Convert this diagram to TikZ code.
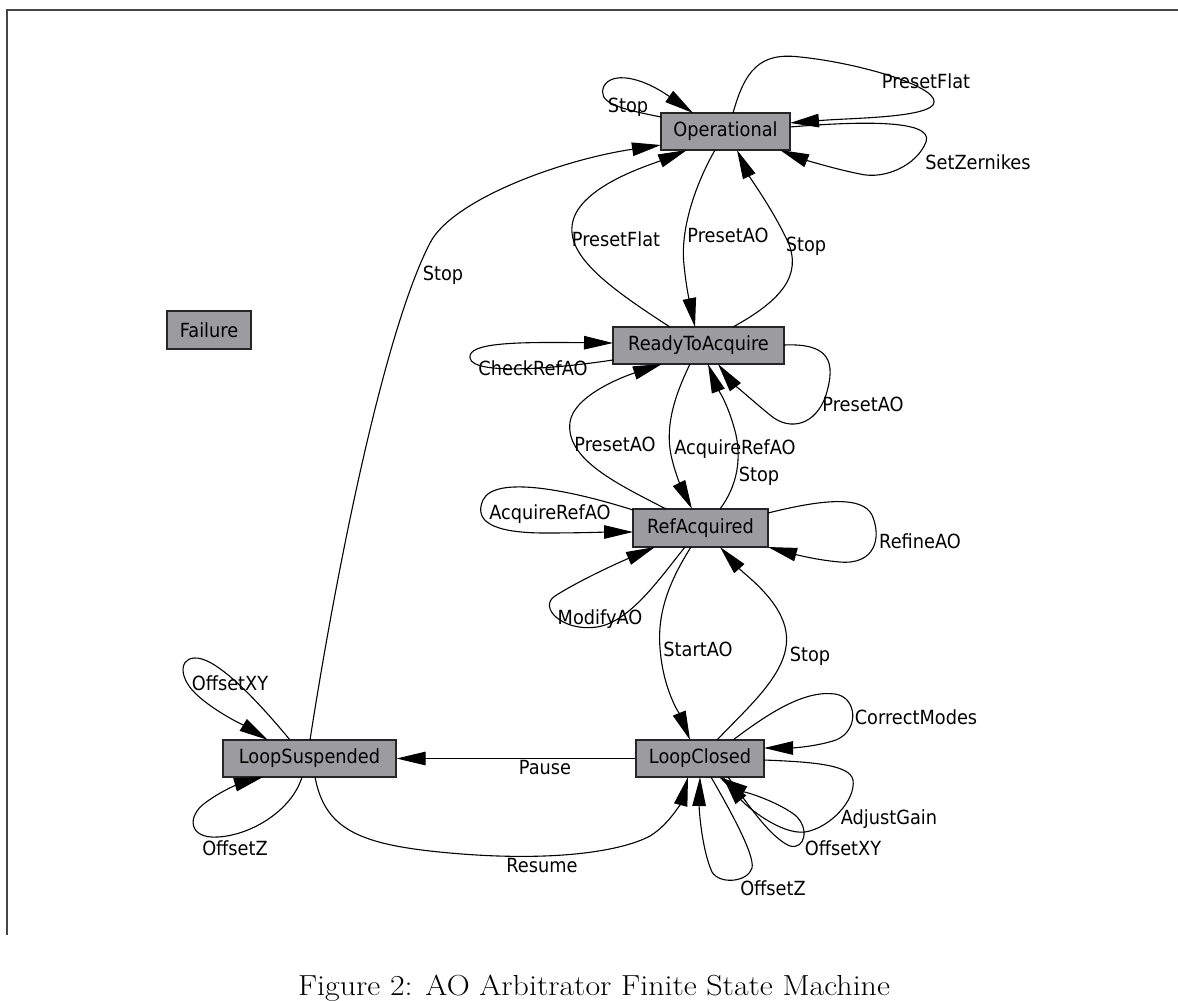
\documentclass[tikz,border=0pt]{standalone}
\usepackage{fontspec}
\usetikzlibrary{arrows.meta}
\newfontfamily\dejavu{DejaVu Sans}[FakeStretch=0.91]
\newcommand{\lblfont}{\dejavu\fontsize{19.5}{22}\selectfont}
\definecolor{boxgray}{RGB}{155,155,160}
\definecolor{framegray}{RGB}{70,70,70}
\tikzset{
  state/.style={draw=black!85, fill=boxgray, line width=1.1pt, minimum height=37pt, inner sep=0pt, font=\lblfont},
  edge/.style={line width=1.1pt, -{Triangle[length=29pt,width=13.5pt]}},
  elabel/.style={font=\lblfont, inner sep=0pt, text height=14pt, text depth=5pt}
}
\begin{document}
\begin{tikzpicture}[x=1pt,y=-1pt]
\useasboundingbox (0,0) rectangle (1178,1001);
\draw[framegray, line width=1.3pt] (7,935) -- (7,10) -- (1178,10);

% states
\node[state, minimum width=129pt] (op)   at (725.5,131.5) {Operational};
\node[state, minimum width=84pt, minimum height=38pt] (fail) at (209,330) {Failure};
\node[state, minimum width=171pt] (rta)  at (698.5,345.5) {ReadyToAcquire};
\node[state, minimum width=135pt, minimum height=38pt] (ref) at (700.5,528) {RefAcquired};
\node[state, minimum width=173pt] (ls)   at (309.5,758.5) {LoopSuspended};
\node[state, minimum width=128pt] (lc)   at (700,758.5) {LoopClosed};

% Operational self loops
\draw[edge] ([shift={(-64.5,-14.5)}]op.center) .. controls (615,108) and (597,102) .. (604,86)
   .. controls (612,72) and (640,76) .. ([shift={(-32.5,-18.5)}]op.center);
\draw[edge] ([shift={(7.5,-18.5)}]op.center) .. controls (745,70) and (760,52) .. (800,57)
   .. controls (860,63) and (945,88) .. (933,105)
   .. controls (922,118) and (850,118) .. ([shift={(64.5,-8.5)}]op.center);
\draw[edge] ([shift={(64.5,-4.5)}]op.center) .. controls (850,122) and (935,118) .. (926,142)
   .. controls (917,165) and (885,180) .. (860,174)
   .. controls (830,168) and (800,158) .. ([shift={(54.5,18.5)}]op.center);

% LoopSuspended -> Operational (Stop)
\draw[edge] ([shift={(0.5,-18.5)}]ls.center) .. controls (338,560) and (385,330) .. (430,243)
   .. controls (452,200) and (560,160) .. ([shift={(-64.5,13.5)}]op.center);

% ReadyToAcquire <-> Operational
\draw[edge] ([shift={(-28.5,-18.5)}]rta.center) .. controls (600,282) and (560,250) .. (575,215)
   .. controls (590,183) and (650,165) .. ([shift={(-38.5,18.5)}]op.center);
\draw[edge] ([shift={(-10.5,18.5)}]op.center) .. controls (695,185) and (680,230) .. (684,265)
   .. controls (687,295) and (692,312) .. ([shift={(-3.5,-18.5)}]rta.center);
\draw[edge] ([shift={(34.5,-18.5)}]rta.center) .. controls (782,300) and (802,275) .. (788,242)
   .. controls (772,208) and (750,178) .. ([shift={(11.5,18.5)}]op.center);

% ReadyToAcquire self loops
\draw[edge] ([shift={(-85.5,14.5)}]rta.center) .. controls (560,368) and (473,376) .. (470,358)
   .. controls (467,342) and (520,342) .. ([shift={(-85.5,-2.5)}]rta.center);
\draw[edge] ([shift={(85.5,-0.5)}]rta.center) .. controls (830,343) and (836,362) .. (826,395)
   .. controls (816,425) and (790,432) .. (770,415)
   .. controls (748,397) and (730,380) .. ([shift={(19.5,18.5)}]rta.center);

% ReadyToAcquire <-> RefAcquired
\draw[edge] ([shift={(-8.5,18.5)}]rta.center) .. controls (675,395) and (665,425) .. (671,455)
   .. controls (676,478) and (685,495) .. ([shift={(-8.5,-19)}]ref.center);
\draw[edge] ([shift={(19.5,-19)}]ref.center) .. controls (738,485) and (741,458) .. (736,435)
   .. controls (729,405) and (716,385) .. ([shift={(9.5,18.5)}]rta.center);
\draw[edge] ([shift={(-34.5,-19)}]ref.center) .. controls (620,485) and (565,460) .. (570,422)
   .. controls (574,395) and (625,376) .. ([shift={(-36.5,18.5)}]rta.center);

% RefAcquired self loops
\draw[edge] ([shift={(-67.5,-18)}]ref.center) .. controls (570,490) and (495,475) .. (483,500)
   .. controls (474,520) and (490,533) .. (545,533)
   .. controls (580,533) and (610,532) .. ([shift={(-67.5,4)}]ref.center);
\draw[edge] ([shift={(67.5,-15)}]ref.center) .. controls (820,500) and (862,495) .. (872,515)
   .. controls (882,538) and (875,565) .. (840,562)
   .. controls (815,560) and (790,553) .. ([shift={(67.5,19)}]ref.center);
\draw[edge] ([shift={(-15.5,19)}]ref.center) .. controls (660,578) and (630,622) .. (597,627)
   .. controls (562,632) and (538,607) .. (555,596)
   .. controls (580,580) and (620,562) .. ([shift={(-45.5,19)}]ref.center);

% RefAcquired <-> LoopClosed
\draw[edge] ([shift={(-9.5,19)}]ref.center) .. controls (670,580) and (657,612) .. (660,648)
   .. controls (663,690) and (680,715) .. ([shift={(-10,-18.5)}]lc.center);
\draw[edge] ([shift={(17,-18.5)}]lc.center) .. controls (750,705) and (792,670) .. (786,632)
   .. controls (781,600) and (745,575) .. ([shift={(19.5,19)}]ref.center);

% LoopClosed <-> LoopSuspended
\draw[edge] (lc.west) -- (ls.east);
\draw[edge] ([shift={(5.5,18.5)}]ls.center) .. controls (325,830) and (360,845) .. (450,853)
   .. controls (550,862) and (620,852) .. (650,836)
   .. controls (670,824) and (682,800) .. ([shift={(-12,18.5)}]lc.center);

% LoopSuspended self loops
\draw[edge] ([shift={(-19.5,-18.5)}]ls.center) .. controls (262,706) and (225,666) .. (202,659)
   .. controls (180,653) and (176,675) .. (196,694)
   .. controls (215,712) and (245,726) .. ([shift={(-41.5,-18.5)}]ls.center);
\draw[edge] ([shift={(-7.5,18.5)}]ls.center) .. controls (292,810) and (252,835) .. (218,837)
   .. controls (188,839) and (187,816) .. (205,803)
   .. controls (225,788) and (245,782) .. ([shift={(-46.5,18.5)}]ls.center);

% LoopClosed self loops
\draw[edge] ([shift={(33,-18.5)}]lc.center) .. controls (770,712) and (805,690) .. (835,694)
   .. controls (857,697) and (860,730) .. (836,740)
   .. controls (815,747) and (790,748) .. ([shift={(64,-10.5)}]lc.center);
\draw[edge] ([shift={(64,1.5)}]lc.center) .. controls (815,762) and (850,765) .. (853,780)
   .. controls (856,800) and (830,828) .. (805,832)
   .. controls (780,835) and (745,805) .. ([shift={(23,18.5)}]lc.center);
\draw[edge] ([shift={(28,18.5)}]lc.center) .. controls (745,800) and (770,838) .. (790,846)
   .. controls (805,850) and (810,828) .. (795,815)
   .. controls (775,800) and (740,790) .. ([shift={(19,18.5)}]lc.center);
\draw[edge] ([shift={(11,18.5)}]lc.center) .. controls (730,810) and (755,855) .. (752,868)
   .. controls (748,882) and (720,885) .. (712,872)
   .. controls (702,850) and (699,810) .. ([shift={(0,18.5)}]lc.center);

% edge labels
\node[elabel] (l1)  at (628,108) {Stop};
\node[elabel] (l2)  at (926,84)  {PresetFlat};
\node[elabel] (l3)  at (978,165) {SetZernikes};
\node[elabel] (l4)  at (443,276) {Stop};
\node[elabel] (l5)  at (616,242) {PresetFlat};
\node[elabel] (l6)  at (728,238) {PresetAO};
\node[elabel] (l7)  at (806,247) {Stop};
\node[elabel] (l8)  at (533,371) {CheckRefAO};
\node[elabel] (l9)  at (863,407) {PresetAO};
\node[elabel] (l10) at (615,447) {PresetAO};
\node[elabel] (l11) at (735,450) {AcquireRefAO};
\node[elabel] (l12) at (759,477) {Stop};
\node[elabel] (l13) at (550,515) {AcquireRefAO};
\node[elabel] (l14) at (920,544) {RefineAO};
\node[elabel] (l15) at (600,620) {ModifyAO};
\node[elabel] (l16) at (698,652) {StartAO};
\node[elabel] (l17) at (810,657) {Stop};
\node[elabel] (l18) at (916,720) {CorrectModes};
\node[elabel] (l19) at (545,770) {Pause};
\node[elabel] (l20) at (542,868) {Resume};
\node[elabel] (l21) at (230,686) {OffsetXY};
\node[elabel] (l22) at (235,851) {OffsetZ};
\node[elabel] (l23) at (889,820) {AdjustGain};
\node[elabel] (l24) at (843,851) {OffsetXY};
\node[elabel] (l25) at (773,891) {OffsetZ};

% caption
\node[font=\fontsize{29}{34}\selectfont, anchor=base, inner sep=0pt] (cap) at (594,995) {\scalebox{1.1}[1]{Figure 2: AO Arbitrator Finite State Machine}};
\end{tikzpicture}
\end{document}
